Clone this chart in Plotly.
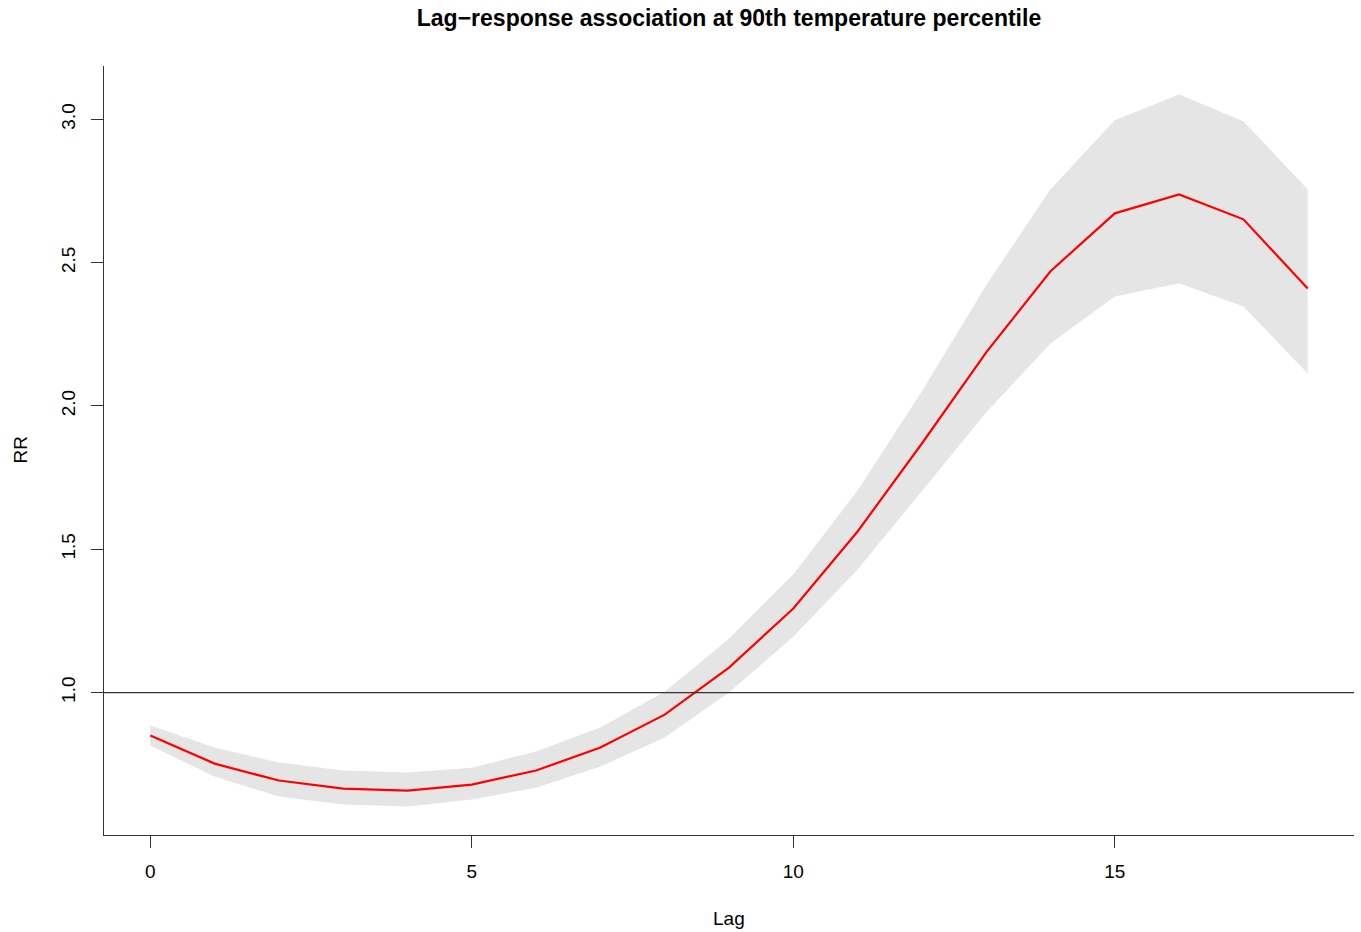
import plotly.graph_objects as go

lag = list(range(0, 19))
rr = [0.850, 0.752, 0.693, 0.665, 0.658, 0.679, 0.728, 0.808, 0.923, 1.087,
      1.293, 1.562, 1.869, 2.187, 2.470, 2.672, 2.738, 2.651, 2.410]
rr_high = [0.885, 0.808, 0.756, 0.728, 0.721, 0.738, 0.794, 0.878, 1.003, 1.188,
           1.412, 1.705, 2.051, 2.421, 2.756, 2.997, 3.087, 2.993, 2.756]
rr_low = [0.815, 0.707, 0.637, 0.609, 0.602, 0.627, 0.668, 0.742, 0.843, 1.000,
          1.195, 1.429, 1.702, 1.977, 2.218, 2.382, 2.428, 2.347, 2.113]
x_ticks = [0, 5, 10, 15]
y_ticks = [1.0, 1.5, 2.0, 2.5, 3.0]

FONT = "Liberation Sans, Arial, Helvetica, sans-serif"

fig = go.Figure()
fig.add_trace(go.Scatter(
    x=lag + lag[::-1], y=rr_high + rr_low[::-1],
    fill="toself", fillcolor="#e5e5e5", line=dict(width=0),
    mode="lines", hoverinfo="skip", showlegend=False))
fig.add_hline(y=1.0, line=dict(color="#333333", width=1.2))
fig.add_trace(go.Scatter(
    x=lag, y=rr, mode="lines",
    line=dict(color="#ff0000", width=2.2), showlegend=False))

fig.update_layout(
    width=1361, height=932,
    margin=dict(l=104, r=7, t=66, b=97),
    paper_bgcolor="white", plot_bgcolor="white",
    font=dict(family=FONT, size=19, color="black"),
    title=dict(text="<b>Lag\u2212response association at 90th temperature percentile</b>",
               x=729 / 1361, xanchor="center", y=1 - 18 / 932, yanchor="middle",
               yref="container", font=dict(size=23, family=FONT, color="black")),
    xaxis=dict(range=[-0.72, 18.72], tickvals=x_ticks, ticktext=[str(v) for v in x_ticks],
               showgrid=False, zeroline=False, showline=True, linecolor="#333333", linewidth=1.2,
               ticks="outside", ticklen=12, tickcolor="#333333", tickwidth=1,
               ticklabelstandoff=7, tickfont=dict(size=19)),
    yaxis=dict(range=[0.503, 3.186], tickvals=y_ticks, ticktext=[f"{v:.1f}" for v in y_ticks],
               showgrid=False, zeroline=False, showline=True, linecolor="#333333", linewidth=1.2,
               ticks="outside", ticklen=12, tickcolor="#333333", tickwidth=1,
               tickangle=-90, ticklabelstandoff=8, tickfont=dict(size=19)),
    annotations=[
        dict(text="Lag", xref="paper", yref="paper", x=0.5, y=0, yshift=-83,
             showarrow=False, xanchor="center", yanchor="middle", font=dict(size=19)),
        dict(text="RR", xref="paper", yref="paper", x=0, y=0.5, xshift=-84,
             showarrow=False, xanchor="center", yanchor="middle", textangle=-90,
             font=dict(size=19)),
    ],
)

fig.write_html("out.html")
